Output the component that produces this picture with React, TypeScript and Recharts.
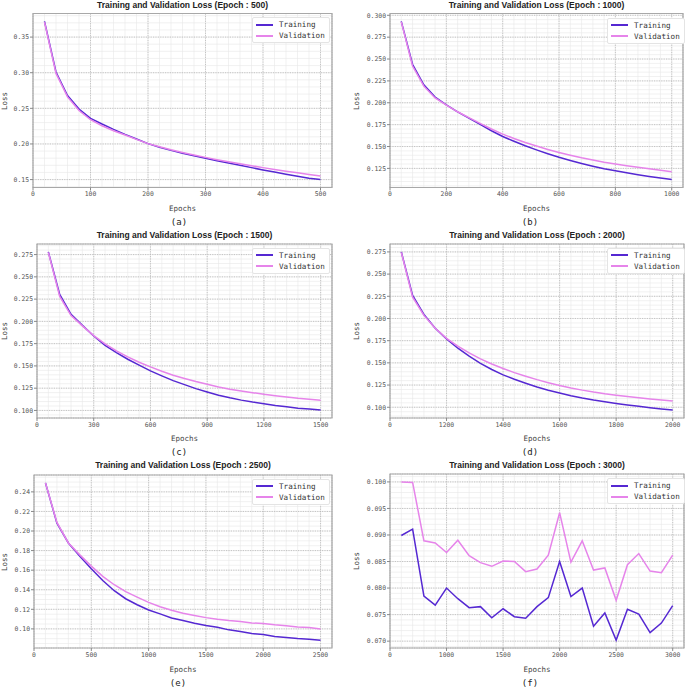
import React from 'react'
import { CartesianGrid, Legend, Line, LineChart, ReferenceArea, XAxis, YAxis } from 'recharts'

const MONO = '"DejaVu Sans Mono", monospace'
const SANS = '"Liberation Sans", Arial, sans-serif'
const TRAIN_COLOR = '#5528d2'
const VAL_COLOR = '#e684ea'

// (a) 500 epochs
const epochsA = [20, 40, 60, 80, 100, 120, 140, 160, 180, 200, 220, 240, 260, 280, 300, 320, 340, 360, 380, 400, 420, 440, 460, 480, 500]
const trainA = [0.372, 0.301, 0.268, 0.249, 0.236, 0.228, 0.2205, 0.2135, 0.207, 0.2005, 0.1955, 0.191, 0.187, 0.1835, 0.18, 0.1765, 0.1733, 0.17, 0.1668, 0.1636, 0.1605, 0.1575, 0.1546, 0.1518, 0.15]
const valA = [0.371, 0.299, 0.266, 0.247, 0.234, 0.2255, 0.2185, 0.2125, 0.2065, 0.2005, 0.196, 0.1918, 0.188, 0.1845, 0.1812, 0.178, 0.175, 0.1722, 0.1695, 0.1668, 0.1643, 0.1618, 0.1595, 0.1572, 0.155]
const xTicksA = [0, 100, 200, 300, 400, 500]
const xLabelsA = ['0', '100', '200', '300', '400', '500']
const yTicksA = [0.15, 0.2, 0.25, 0.3, 0.35]

// (b) 1000 epochs
const epochsB = [40, 80, 120, 160, 200, 240, 280, 320, 360, 400, 440, 480, 520, 560, 600, 640, 680, 720, 760, 800, 840, 880, 920, 960, 1000]
const trainB = [0.293, 0.244, 0.2205, 0.2065, 0.1975, 0.1895, 0.1825, 0.1752, 0.168, 0.1615, 0.156, 0.1508, 0.1462, 0.1418, 0.1377, 0.134, 0.1306, 0.1275, 0.1247, 0.1222, 0.1199, 0.1178, 0.1158, 0.114, 0.1122]
const valB = [0.2925, 0.242, 0.219, 0.2055, 0.1972, 0.1897, 0.183, 0.1765, 0.17, 0.1642, 0.1592, 0.1546, 0.1505, 0.1467, 0.1432, 0.14, 0.1371, 0.1345, 0.1321, 0.13, 0.128, 0.1262, 0.1245, 0.1228, 0.1212]
const xTicksB = [0, 200, 400, 600, 800, 1000]
const xLabelsB = ['0', '200', '400', '600', '800', '1000']
const yTicksB = [0.125, 0.15, 0.175, 0.2, 0.225, 0.25, 0.275, 0.3]

// (c) 1500 epochs
const epochsC = [60, 120, 180, 240, 300, 360, 420, 480, 540, 600, 660, 720, 780, 840, 900, 960, 1020, 1080, 1140, 1200, 1260, 1320, 1380, 1440, 1500]
const trainC = [0.278, 0.2303, 0.2079, 0.1955, 0.1836, 0.1731, 0.165, 0.1575, 0.1508, 0.1444, 0.1388, 0.1335, 0.129, 0.1245, 0.1208, 0.1171, 0.1142, 0.1116, 0.1094, 0.1075, 0.1056, 0.1041, 0.1026, 0.1015, 0.1004]
const valC = [0.2775, 0.228, 0.2065, 0.195, 0.184, 0.1748, 0.1669, 0.1601, 0.1541, 0.1489, 0.144, 0.1395, 0.1358, 0.1324, 0.1294, 0.1264, 0.1238, 0.1219, 0.12, 0.1181, 0.1166, 0.1151, 0.1136, 0.1125, 0.1114]
const xTicksC = [0, 300, 600, 900, 1200, 1500]
const xLabelsC = ['0', '300', '600', '900', '1200', '1500']
const yTicksC = [0.1, 0.125, 0.15, 0.175, 0.2, 0.225, 0.25, 0.275]

// (d) 2000 epochs
const epochsD = [80, 160, 240, 320, 400, 480, 560, 640, 720, 800, 880, 960, 1040, 1120, 1200, 1280, 1360, 1440, 1520, 1600, 1680, 1760, 1840, 1920, 2000]
const trainD = [0.275, 0.226, 0.2045, 0.189, 0.177, 0.1665, 0.1575, 0.1495, 0.1425, 0.1365, 0.1315, 0.127, 0.1228, 0.1192, 0.116, 0.113, 0.1104, 0.1081, 0.1061, 0.1043, 0.1026, 0.101, 0.0995, 0.0981, 0.0968]
const valD = [0.2745, 0.224, 0.2035, 0.189, 0.1776, 0.1688, 0.1612, 0.1545, 0.1487, 0.1436, 0.139, 0.1349, 0.1311, 0.1277, 0.1246, 0.1218, 0.1193, 0.1171, 0.1152, 0.1136, 0.112, 0.1106, 0.1093, 0.1081, 0.107]
const xTicksD = [0, 400, 800, 1200, 1600, 2000]
const xLabelsD = ['0', '1200', '1400', '1600', '1800', '2000']
const yTicksD = [0.1, 0.125, 0.15, 0.175, 0.2, 0.225, 0.25, 0.275]

// (e) 2500 epochs
const epochsE = [100, 200, 300, 400, 500, 600, 700, 800, 900, 1000, 1100, 1200, 1300, 1400, 1500, 1600, 1700, 1800, 1900, 2000, 2100, 2200, 2300, 2400, 2500]
const trainE = [0.2492, 0.2081, 0.1878, 0.1742, 0.1614, 0.1495, 0.139, 0.1308, 0.1247, 0.1193, 0.1153, 0.1112, 0.1085, 0.1058, 0.1034, 0.1017, 0.099, 0.0973, 0.0953, 0.0942, 0.0922, 0.0912, 0.0902, 0.0895, 0.0885]
const valE = [0.2492, 0.2088, 0.1878, 0.1756, 0.1641, 0.1536, 0.1451, 0.138, 0.1325, 0.1271, 0.1227, 0.119, 0.1159, 0.1136, 0.1115, 0.1098, 0.1085, 0.1075, 0.1061, 0.1054, 0.1041, 0.1031, 0.102, 0.1014, 0.1]
const xTicksE = [0, 500, 1000, 1500, 2000, 2500]
const xLabelsE = ['0', '500', '1000', '1500', '2000', '2500']
const yTicksE = [0.1, 0.12, 0.14, 0.16, 0.18, 0.2, 0.22, 0.24]

// (f) 3000 epochs
const epochsF = [120, 240, 360, 480, 600, 720, 840, 960, 1080, 1200, 1320, 1440, 1560, 1680, 1800, 1920, 2040, 2160, 2280, 2400, 2520, 2640, 2760, 2880, 3000]
const trainF = [0.0899, 0.0911, 0.0785, 0.0768, 0.08, 0.078, 0.0763, 0.0765, 0.0744, 0.0761, 0.0746, 0.0743, 0.0765, 0.0782, 0.085, 0.0784, 0.08, 0.0728, 0.0753, 0.0702, 0.076, 0.0751, 0.0716, 0.0734, 0.0767]
const valF = [0.1, 0.0999, 0.0889, 0.0885, 0.0867, 0.089, 0.0861, 0.0848, 0.0841, 0.0851, 0.085, 0.0831, 0.0836, 0.0862, 0.0942, 0.0849, 0.0889, 0.0834, 0.0838, 0.0777, 0.0844, 0.0865, 0.0832, 0.0829, 0.0862]
const xTicksF = [0, 600, 1200, 1800, 2400, 3000]
const xLabelsF = ['0', '1000', '1500', '2000', '2500', '3000']
const yTicksF = [0.07, 0.075, 0.08, 0.085, 0.09, 0.095, 0.1]

type Box = { left: number; top: number; width: number; height: number }
type Plot = { left: number; top: number; right: number; bottom: number }

type PanelProps = {
  epochLimit: number
  caption: string
  epochs: number[]
  train: number[]
  val: number[]
  xTicks: number[]
  xLabels: string[]
  yTicks: number[]
  yDigits: number
  xMinor: number
  yMinor: number
  box: Box
  plot: Plot
  titleY: number
  epochsY: number
  captionX: number
  captionY: number
  lossX: number
  legend: { left: number; top: number }
}

// grid helper (minor grid lines only)
function steps(lo: number, hi: number, step: number) {
  const out: number[] = []
  const start = Math.ceil(lo / step - 1e-9) * step
  for (let v = start; v <= hi + 1e-9; v += step) out.push(+v.toFixed(6))
  return out
}

function LegendBox({ payload }: any) {
  return (
    <div
      style={{
        background: '#fff',
        border: '1px solid #e4e4e4',
        borderRadius: 2,
        padding: '1px 4px 1px 3px',
      }}
    >
      {(payload || []).map((p: any) => (
        <div key={p.value} style={{ display: 'flex', alignItems: 'center', height: 11 }}>
          <span style={{ width: 17, height: 0, borderTop: `2px solid ${p.color}`, marginRight: 6 }} />
          <span style={{ fontFamily: MONO, fontSize: 7.6, color: '#333', lineHeight: '11px' }}>{p.value}</span>
        </div>
      ))}
    </div>
  )
}

function LossPanel(p: PanelProps) {
  const rows = p.epochs.map((epoch, i) => ({ epoch, train: p.train[i], val: p.val[i] }))
  const all = [...p.train, ...p.val]
  const lo = Math.min(...all)
  const hi = Math.max(...all)
  const pad = (hi - lo) * 0.05
  const yDomain: [number, number] = [lo - pad, hi + pad]
  const xMax = p.epochs[p.epochs.length - 1]
  const xDomain: [number, number] = [0, xMax * 1.04]
  const plotMidX = (p.plot.left + p.plot.right) / 2
  const plotMidY = (p.plot.top + p.plot.bottom) / 2
  const tickFont = { fontSize: 6.4, fill: '#555', fontFamily: MONO }

  return (
    <>
      <div style={{ position: 'absolute', left: p.box.left, top: p.box.top }}>
        <LineChart
          width={p.box.width}
          height={p.box.height}
          data={rows}
          margin={{
            top: p.plot.top - p.box.top,
            right: p.box.left + p.box.width - p.plot.right,
            left: 0,
            bottom: 0,
          }}
        >
          <CartesianGrid
            horizontalValues={steps(yDomain[0], yDomain[1], p.yMinor)}
            verticalValues={steps(xDomain[0], xDomain[1], p.xMinor)}
            stroke="#e8e8e8"
            strokeWidth={0.6}
          />
          <CartesianGrid stroke="#b8b8b8" strokeWidth={0.8} strokeDasharray="1.2 1.2" />
          <XAxis
            dataKey="epoch"
            type="number"
            domain={xDomain}
            allowDataOverflow
            ticks={p.xTicks}
            interval={0}
            tickFormatter={(v: number) => p.xLabels[p.xTicks.indexOf(v)]}
            height={p.box.top + p.box.height - p.plot.bottom}
            axisLine={false}
            tickSize={3}
            tickMargin={1}
            tickLine={{ stroke: '#888' }}
            tick={tickFont}
          />
          <YAxis
            type="number"
            domain={yDomain}
            allowDataOverflow
            ticks={p.yTicks}
            interval={0}
            tickFormatter={(v: number) => v.toFixed(p.yDigits)}
            width={p.plot.left - p.box.left}
            axisLine={false}
            tickSize={3}
            tickMargin={1}
            tickLine={{ stroke: '#888' }}
            tick={tickFont}
          />
          <ReferenceArea
            x1={xDomain[0]}
            x2={xDomain[1]}
            y1={yDomain[0]}
            y2={yDomain[1]}
            fill="none"
            stroke="#a8a8a8"
            strokeWidth={1.2}
          />
          <Legend
            layout="vertical"
            align="center"
            verticalAlign="middle"
            content={LegendBox}
            wrapperStyle={{
              left: p.legend.left - p.box.left,
              top: p.legend.top - p.box.top,
              width: 'auto',
            }}
          />
          <Line
            name="Training"
            type="linear"
            dataKey="train"
            stroke={TRAIN_COLOR}
            strokeWidth={1.5}
            dot={false}
            isAnimationActive={false}
          />
          <Line
            name="Validation"
            type="linear"
            dataKey="val"
            stroke={VAL_COLOR}
            strokeWidth={1.5}
            dot={false}
            isAnimationActive={false}
          />
        </LineChart>
      </div>
      <div
        style={{
          position: 'absolute',
          left: plotMidX,
          top: p.titleY,
          transform: 'translate(-50%, -50%)',
          fontFamily: SANS,
          fontWeight: 700,
          fontSize: 8.5,
          color: '#222',
          whiteSpace: 'nowrap',
        }}
      >
        {`Training and Validation Loss (Epoch : ${p.epochLimit})`}
      </div>
      <div
        style={{
          position: 'absolute',
          left: plotMidX,
          top: p.epochsY,
          transform: 'translate(-50%, -50%)',
          fontFamily: MONO,
          fontSize: 7.5,
          color: '#444',
        }}
      >
        Epochs
      </div>
      <div
        style={{
          position: 'absolute',
          left: p.lossX,
          top: plotMidY,
          transform: 'translate(-50%, -50%) rotate(-90deg)',
          fontFamily: MONO,
          fontSize: 7.5,
          color: '#444',
        }}
      >
        Loss
      </div>
      <div
        style={{
          position: 'absolute',
          left: p.captionX,
          top: p.captionY,
          transform: 'translate(-50%, -50%)',
          fontFamily: MONO,
          fontSize: 9,
          color: '#222',
        }}
      >
        {p.caption}
      </div>
    </>
  )
}

export default function App() {
  return (
    <div style={{ position: 'absolute', left: 0, top: 0, width: 685, height: 688, background: '#fff', overflow: 'hidden' }}>
      <LossPanel
        epochLimit={500}
        caption="(a)"
        epochs={epochsA}
        train={trainA}
        val={valA}
        xTicks={xTicksA}
        xLabels={xLabelsA}
        yTicks={yTicksA}
        yDigits={2}
        xMinor={20}
        yMinor={0.01}
        box={{ left: 0, top: 0, width: 342, height: 228 }}
        plot={{ left: 33, top: 13.5, right: 332, bottom: 187.5 }}
        titleY={4.5}
        epochsY={208}
        captionX={179}
        captionY={221.7}
        lossX={4}
        legend={{ left: 252, top: 17 }}
      />
      <LossPanel
        epochLimit={1000}
        caption="(b)"
        epochs={epochsB}
        train={trainB}
        val={valB}
        xTicks={xTicksB}
        xLabels={xLabelsB}
        yTicks={yTicksB}
        yDigits={3}
        xMinor={40}
        yMinor={0.005}
        box={{ left: 343, top: 0, width: 342, height: 228 }}
        plot={{ left: 390, top: 13.5, right: 683, bottom: 187.5 }}
        titleY={4.5}
        epochsY={208}
        captionX={530}
        captionY={221.7}
        lossX={356}
        legend={{ left: 607, top: 17.5 }}
      />
      <LossPanel
        epochLimit={1500}
        caption="(c)"
        epochs={epochsC}
        train={trainC}
        val={valC}
        xTicks={xTicksC}
        xLabels={xLabelsC}
        yTicks={yTicksC}
        yDigits={3}
        xMinor={60}
        yMinor={0.005}
        box={{ left: 0, top: 228, width: 342, height: 229 }}
        plot={{ left: 37, top: 244, right: 332, bottom: 418 }}
        titleY={235}
        epochsY={438.3}
        captionX={179}
        captionY={451.7}
        lossX={4}
        legend={{ left: 252, top: 247.5 }}
      />
      <LossPanel
        epochLimit={2000}
        caption="(d)"
        epochs={epochsD}
        train={trainD}
        val={valD}
        xTicks={xTicksD}
        xLabels={xLabelsD}
        yTicks={yTicksD}
        yDigits={3}
        xMinor={80}
        yMinor={0.005}
        box={{ left: 343, top: 228, width: 342, height: 229 }}
        plot={{ left: 390, top: 244, right: 684, bottom: 418 }}
        titleY={235}
        epochsY={438.3}
        captionX={530}
        captionY={451.7}
        lossX={356}
        legend={{ left: 607, top: 247.5 }}
      />
      <LossPanel
        epochLimit={2500}
        caption="(e)"
        epochs={epochsE}
        train={trainE}
        val={valE}
        xTicks={xTicksE}
        xLabels={xLabelsE}
        yTicks={yTicksE}
        yDigits={2}
        xMinor={100}
        yMinor={0.005}
        box={{ left: 0, top: 457, width: 342, height: 231 }}
        plot={{ left: 34, top: 475, right: 332, bottom: 648 }}
        titleY={465}
        epochsY={669}
        captionX={178}
        captionY={682.7}
        lossX={4}
        legend={{ left: 252, top: 478.5 }}
      />
      <LossPanel
        epochLimit={3000}
        caption="(f)"
        epochs={epochsF}
        train={trainF}
        val={valF}
        xTicks={xTicksF}
        xLabels={xLabelsF}
        yTicks={yTicksF}
        yDigits={3}
        xMinor={120}
        yMinor={0.001}
        box={{ left: 343, top: 457, width: 342, height: 231 }}
        plot={{ left: 390, top: 474, right: 684, bottom: 648 }}
        titleY={465}
        epochsY={669}
        captionX={530}
        captionY={683}
        lossX={356}
        legend={{ left: 607, top: 478 }}
      />
    </div>
  )
}
